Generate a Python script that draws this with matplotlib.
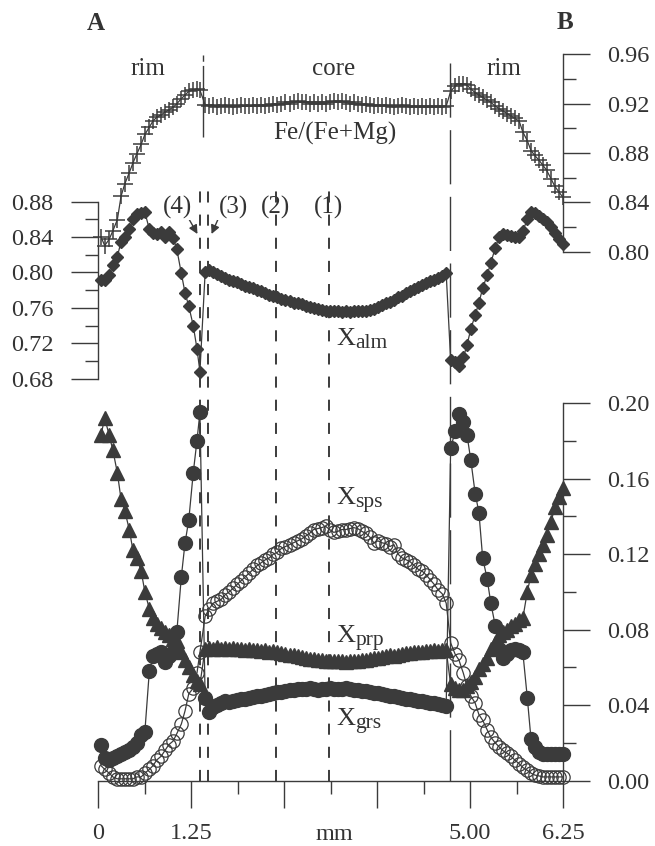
import matplotlib.pyplot as plt
from matplotlib.ticker import FixedLocator, FixedFormatter, FormatStrFormatter

plt.rcParams['font.family'] = 'Liberation Serif'

ink = '#3b3b3b'
txt = '#333333'

# distance along the traverse (mm): left rim, core, right rim
dist = [
    0.04, 0.09, 0.15, 0.20, 0.26, 0.31, 0.36, 0.42, 0.47, 0.52, 0.58, 0.63, 0.69,
    0.74, 0.79, 0.85, 0.90, 0.95, 1.01, 1.06, 1.12, 1.17, 1.22, 1.28, 1.33, 1.37,
    1.440, 1.494, 1.548, 1.602, 1.656, 1.710, 1.764, 1.818, 1.872, 1.926,
    1.980, 2.034, 2.088, 2.142, 2.196, 2.250, 2.304, 2.358, 2.412, 2.466,
    2.520, 2.574, 2.628, 2.682, 2.736, 2.790, 2.844, 2.898, 2.952, 3.006,
    3.060, 3.114, 3.168, 3.222, 3.276, 3.330, 3.384, 3.438, 3.492, 3.546,
    3.600, 3.654, 3.708, 3.762, 3.816, 3.870, 3.924, 3.978, 4.032, 4.086,
    4.140, 4.194, 4.248, 4.302, 4.356, 4.410, 4.464, 4.518, 4.572, 4.626,
    4.680,
    4.74, 4.80, 4.85, 4.91, 4.96, 5.01, 5.07, 5.12, 5.17, 5.23, 5.28, 5.34, 5.39,
    5.44, 5.50, 5.55, 5.60, 5.66, 5.71, 5.77, 5.82, 5.87, 5.93, 5.98, 6.03, 6.09,
    6.14, 6.20, 6.25,
]

fe_mg = [
    0.812, 0.805, 0.810, 0.817, 0.826, 0.845, 0.855, 0.864, 0.872, 0.879, 0.887, 0.895, 0.901,
    0.906, 0.909, 0.911, 0.913, 0.915, 0.917, 0.920, 0.924, 0.927, 0.930, 0.931, 0.932, 0.931,
    0.919, 0.918, 0.919, 0.917, 0.918, 0.919, 0.918, 0.917, 0.918, 0.919,
    0.918, 0.918, 0.919, 0.918, 0.919, 0.918, 0.919, 0.920, 0.919, 0.920,
    0.921, 0.920, 0.921, 0.922, 0.921, 0.921, 0.920, 0.921, 0.920, 0.921,
    0.920, 0.921, 0.922, 0.921, 0.922, 0.921, 0.920, 0.921, 0.920, 0.919,
    0.920, 0.919, 0.918, 0.919, 0.918, 0.919, 0.918, 0.917, 0.918, 0.919,
    0.918, 0.917, 0.918, 0.917, 0.918, 0.917, 0.918, 0.917, 0.918, 0.917,
    0.918,
    0.930, 0.934, 0.936, 0.936, 0.935, 0.932, 0.929, 0.927, 0.925, 0.923, 0.921, 0.918, 0.916,
    0.914, 0.912, 0.910, 0.908, 0.906, 0.897, 0.890, 0.882, 0.878, 0.874, 0.870, 0.866, 0.859,
    0.853, 0.848, 0.844,
]

x_alm = [
    0.792, 0.791, 0.797, 0.808, 0.818, 0.835, 0.840, 0.849, 0.860, 0.866, 0.867, 0.868, 0.849,
    0.845, 0.844, 0.846, 0.840, 0.846, 0.839, 0.826, 0.799, 0.777, 0.762, 0.740, 0.714, 0.688,
    0.800, 0.803, 0.800, 0.798, 0.796, 0.794, 0.792, 0.790, 0.789, 0.787,
    0.785, 0.784, 0.782, 0.780, 0.779, 0.777, 0.775, 0.774, 0.772, 0.770,
    0.769, 0.768, 0.766, 0.765, 0.764, 0.762, 0.761, 0.760, 0.759, 0.758,
    0.757, 0.757, 0.756, 0.756, 0.755, 0.756, 0.755, 0.756, 0.756, 0.757,
    0.757, 0.758, 0.759, 0.761, 0.763, 0.765, 0.767, 0.769, 0.772, 0.774,
    0.777, 0.779, 0.781, 0.784, 0.786, 0.788, 0.790, 0.792, 0.794, 0.796,
    0.799,
    0.701, 0.699, 0.694, 0.704, 0.718, 0.736, 0.752, 0.766, 0.782, 0.797, 0.811, 0.828, 0.840,
    0.844, 0.842, 0.841, 0.840, 0.840, 0.847, 0.860, 0.868, 0.867, 0.864, 0.861, 0.857, 0.851,
    0.845, 0.838, 0.832,
]

x_sps = [
    0.008, 0.006, 0.004, 0.002, 0.001, 0.001, 0.001, 0.001, 0.001, 0.002, 0.002, 0.004, 0.006,
    0.008, 0.011, 0.013, 0.016, 0.019, 0.021, 0.025, 0.030, 0.037, 0.046, 0.049, 0.057, 0.068,
    0.087, 0.091, 0.094, 0.095, 0.096, 0.0985, 0.100, 0.102, 0.104, 0.106,
    0.108, 0.110, 0.112, 0.114, 0.1155, 0.117, 0.118, 0.120, 0.121, 0.123,
    0.124, 0.125, 0.126, 0.127, 0.128, 0.1295, 0.131, 0.133, 0.1335, 0.134,
    0.1347, 0.133, 0.1315, 0.132, 0.133, 0.133, 0.1335, 0.134, 0.1335, 0.132,
    0.131, 0.129, 0.126, 0.127, 0.126, 0.1255, 0.124, 0.125, 0.120, 0.118,
    0.117, 0.116, 0.114, 0.112, 0.111, 0.109, 0.1065, 0.104, 0.101, 0.099,
    0.094,
    0.073, 0.067, 0.064, 0.057, 0.050, 0.045, 0.041, 0.035, 0.032, 0.027, 0.023, 0.020, 0.018,
    0.016, 0.0145, 0.013, 0.011, 0.009, 0.007, 0.0055, 0.004, 0.003, 0.0025, 0.002, 0.002, 0.002,
    0.002, 0.002, 0.002,
]

x_prp = [
    0.183, 0.192, 0.183, 0.175, 0.163, 0.149, 0.143, 0.133, 0.122, 0.118, 0.111, 0.100, 0.091,
    0.086, 0.083, 0.081, 0.079, 0.077, 0.075, 0.074, 0.068, 0.064, 0.060, 0.056, 0.053, 0.051,
    0.0700, 0.0705, 0.0700, 0.0710, 0.0700, 0.0705, 0.0698, 0.0702, 0.0696, 0.0700,
    0.0693, 0.0697, 0.0690, 0.0694, 0.0688, 0.0690, 0.0684, 0.0686, 0.0680, 0.0676,
    0.0672, 0.0668, 0.0664, 0.0660, 0.0656, 0.0650, 0.0646, 0.0644, 0.0640, 0.0638,
    0.0636, 0.0634, 0.0636, 0.0632, 0.0634, 0.0630, 0.0632, 0.0636, 0.0634, 0.0640,
    0.0638, 0.0644, 0.0648, 0.0652, 0.0656, 0.0660, 0.0664, 0.0662, 0.0668, 0.0672,
    0.0676, 0.0674, 0.0680, 0.0684, 0.0682, 0.0688, 0.0686, 0.0690, 0.0688, 0.0692,
    0.0690,
    0.051, 0.049, 0.048, 0.048, 0.050, 0.052, 0.055, 0.059, 0.062, 0.065, 0.070, 0.073, 0.077,
    0.079, 0.080, 0.082, 0.083, 0.085, 0.086, 0.100, 0.109, 0.115, 0.120, 0.125, 0.130, 0.137,
    0.145, 0.150, 0.155,
]

x_grs = [
    0.019, 0.012, 0.011, 0.012, 0.013, 0.014, 0.015, 0.016, 0.018, 0.020, 0.024, 0.026, 0.058,
    0.066, 0.067, 0.068, 0.063, 0.066, 0.068, 0.079, 0.108, 0.126, 0.138, 0.163, 0.180, 0.195,
    0.0437, 0.0366, 0.0390, 0.0400, 0.0410, 0.0420, 0.0418, 0.0420, 0.0425, 0.0430,
    0.0435, 0.0440, 0.0443, 0.0446, 0.0450, 0.0455, 0.0460, 0.0465, 0.0470, 0.0472,
    0.0475, 0.0480, 0.0478, 0.0484, 0.0488, 0.0486, 0.0490, 0.0486, 0.0482, 0.0484,
    0.0488, 0.0490, 0.0486, 0.0484, 0.0488, 0.0490, 0.0486, 0.0482, 0.0480, 0.0476,
    0.0474, 0.0470, 0.0466, 0.0462, 0.0458, 0.0454, 0.0450, 0.0446, 0.0442, 0.0438,
    0.0434, 0.0430, 0.0426, 0.0422, 0.0420, 0.0416, 0.0412, 0.0410, 0.0406, 0.0402,
    0.0398,
    0.176, 0.185, 0.194, 0.190, 0.183, 0.170, 0.152, 0.142, 0.118, 0.107, 0.094, 0.082, 0.070,
    0.065, 0.067, 0.069, 0.070, 0.069, 0.068, 0.044, 0.022, 0.018, 0.015, 0.014, 0.014, 0.014,
    0.014, 0.014, 0.014,
]

# analysed profile positions (mm) and the rim/core boundaries
profiles = {'(4)': 1.37, '(3)': 1.485, '(2)': 2.39, '(1)': 3.10}
rim_core = [1.407, 4.73]

fe_ticks = [0.80, 0.84, 0.88, 0.92, 0.96]
alm_ticks = [0.68, 0.72, 0.76, 0.80, 0.84, 0.88]
x_ticks = [0.00, 0.04, 0.08, 0.12, 0.16, 0.20]
mm_ticks = [0, 1.25, 2.5, 3.75, 5.0, 6.25]
mm_labels = ['0', '1.25', '', '', '5.00', '6.25']

W, H = 655.0, 846.0
fig = plt.figure(figsize=(W / 100, H / 100), dpi=100)


def add_panel(top, bottom):
    ax = fig.add_axes([98 / W, 1 - bottom / H, 465 / W, (bottom - top) / H])
    ax.patch.set_visible(False)
    ax.set_xlim(0, 6.25)
    for s in ax.spines.values():
        s.set_visible(False)
        s.set_color(ink)
        s.set_linewidth(1.0)
    ax.tick_params(which='both', direction='out', color=ink, width=1.0,
                   labelcolor=txt, labelsize=17.5, pad=12.5)
    ax.tick_params(which='major', length=19.5)
    ax.tick_params(which='minor', length=9.5)
    return ax


def y_scale(ax, ticks, side):
    ax.set_ylim(ticks[0], ticks[-1])
    ax.spines[side].set_visible(True)
    if side == 'right':
        ax.yaxis.tick_right()
    ax.yaxis.set_major_locator(FixedLocator(ticks))
    mids = [(a + b) / 2 for a, b in zip(ticks[:-1], ticks[1:])]
    ax.yaxis.set_minor_locator(FixedLocator(mids))
    ax.yaxis.set_major_formatter(FormatStrFormatter('%.2f'))


ax_fe = add_panel(54.3, 251.7)
ax_alm = add_panel(201.7, 378.7)
ax_x = add_panel(403.0, 780.7)

y_scale(ax_fe, fe_ticks, 'right')
y_scale(ax_alm, alm_ticks, 'left')
y_scale(ax_x, x_ticks, 'right')
ax_fe.set_xticks([])
ax_alm.set_xticks([])

ax_x.spines['bottom'].set_visible(True)
ax_x.xaxis.set_major_locator(FixedLocator(mm_ticks))
ax_x.xaxis.set_major_formatter(FixedFormatter(mm_labels))
ax_x.xaxis.set_minor_locator(FixedLocator([(a + b) / 2 for a, b in zip(mm_ticks[:-1], mm_ticks[1:])]))
ax_x.tick_params(axis='x', pad=11)
ax_x.text(3.18, -0.157, 'mm', transform=ax_x.get_xaxis_transform(),
          ha='center', va='baseline', fontsize=17.5, color=txt)

# profile lines through the Xalm and end-member panels
for name, x in profiles.items():
    ax_x.plot([x, x], [0, 1.5825], transform=ax_x.get_xaxis_transform(), color=ink,
              lw=1.4, ls=(0, (5.7, 6.2)), clip_on=False, zorder=1)

# rim/core boundaries
ax_fe.plot([rim_core[0]] * 2, [0.996, 0.581], transform=ax_fe.get_xaxis_transform(),
           color=ink, lw=1.0, ls=(0, (4.5, 3, 60, 5)), clip_on=False, zorder=1)
ax_fe.plot([rim_core[1]] * 2, [0.956, -2.681], transform=ax_fe.get_xaxis_transform(),
           color=ink, lw=1.0, ls=(0, (39, 9)), clip_on=False, zorder=1)

line_kw = dict(color=ink, lw=0.9, clip_on=False, zorder=3)
ax_fe.plot(dist, fe_mg, marker='+', ms=11, mew=1.1, **line_kw)
ax_alm.plot(dist, x_alm, marker='D', ms=6.6, **line_kw)
ax_x.plot(dist, x_sps, marker='o', ms=9.6, mfc='none', mew=0.9, **line_kw)
ax_x.plot(dist, x_prp, marker='^', ms=9.5, **line_kw)
ax_x.plot(dist, x_grs, marker='o', ms=10, **line_kw)

# zone labels
for x, word in [(0.665, 'rim'), (3.17, 'core'), (5.46, 'rim')]:
    ax_fe.text(x, 0.9432, word, ha='center', va='baseline', fontsize=18, color=txt)
ax_fe.text(3.19, 0.8905, 'Fe/(Fe+Mg)', ha='center', va='baseline', fontsize=18, color=txt)

label_x = {'(4)': 1.062, '(3)': 1.815, '(2)': 2.39, '(1)': 3.10}
for name, x in label_x.items():
    ax_alm.text(x, 0.8667, name, ha='center', va='baseline', fontsize=18, color=txt,
                bbox=dict(fc='white', ec='none', pad=0.8), zorder=4)
arrow = dict(arrowstyle='-|>', color=ink, lw=1.0, mutation_scale=13, shrinkA=0, shrinkB=0)
ax_alm.annotate('', xy=(1.337, 0.8435), xytext=(1.215, 0.8615), arrowprops=arrow)
ax_alm.annotate('', xy=(1.526, 0.8435), xytext=(1.62, 0.8615), arrowprops=arrow)


def species(ax, y, sub):
    ax.text(3.21, y, 'X', fontsize=19, color=txt, ha='left', va='baseline', zorder=4)
    ax.annotate(sub, (3.21, y), xytext=(13.4, -2.2), textcoords='offset points',
                fontsize=15.5, color=txt, ha='left', va='baseline', zorder=4)


species(ax_alm, 0.718, 'alm')
species(ax_x, 0.1463, 'sps')
species(ax_x, 0.0736, 'prp')
species(ax_x, 0.0295, 'grs')

fig.text(96 / W, 1 - 30 / H, 'A', ha='center', va='baseline', fontsize=18,
         fontweight='bold', color=txt)
fig.text(565 / W, 1 - 29 / H, 'B', ha='center', va='baseline', fontsize=18,
         fontweight='bold', color=txt)

fig.savefig('out.png', dpi=100)
